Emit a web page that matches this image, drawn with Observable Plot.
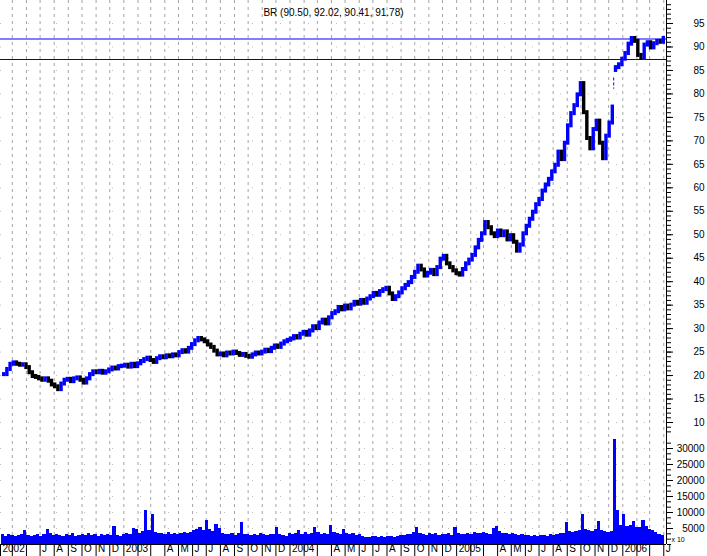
<!DOCTYPE html>
<html><head><meta charset="utf-8">
<script src="https://cdn.jsdelivr.net/npm/d3@7"></script>
<script src="https://cdn.jsdelivr.net/npm/@observablehq/plot@0.6"></script>
<style>
html,body{margin:0;padding:0;background:#fff;}
#chart{position:relative;width:707px;height:556px;overflow:hidden;background:#fff;}
#chart svg{position:absolute;left:0;top:0;}
</style></head><body><div id="chart"></div>
<script>
const title = "BR (90.50, 92.02, 90.41, 91.78)";
const firstWeek = "2002-04-12";
const lastWeek = "2006-03-31";
const xStart = "2002-04-05";
const xEnd = "2006-04-07";

// weekly closes (Fridays)
const closes = [
  20.2, 21.3, 22.4, 22.7, 22.4, 22.2, 22.3, 21.7, 20.6, 19.8,
  19.6, 19.3, 19.0, 19.3, 18.8, 18.0, 17.6, 17.0, 18.2, 19.0,
  19.2, 18.7, 19.3, 19.5, 19.0, 18.4, 19.3, 20.2, 20.8, 20.6,
  20.9, 20.5, 20.8, 21.2, 21.6, 21.4, 21.9, 22.0, 22.2, 21.8,
  22.4, 21.9, 22.5, 23.0, 23.4, 23.7, 23.2, 22.8, 23.6, 24.0,
  23.8, 24.2, 24.0, 24.4, 24.2, 24.9, 25.3, 25.0, 25.8, 26.6,
  27.4, 27.9, 27.6, 27.2, 26.5, 26.0, 25.2, 24.4, 24.6, 24.2,
  24.8, 24.6, 25.0, 24.7, 24.3, 24.5, 24.1, 23.9, 24.4, 24.8,
  24.6, 25.0, 25.4, 25.1, 25.8, 26.3, 26.0, 26.7, 27.2, 27.5,
  27.8, 28.3, 28.0, 28.8, 29.2, 28.6, 29.5, 30.4, 30.0, 31.2,
  31.8, 31.0, 32.3, 33.2, 33.6, 34.5, 34.0, 34.8, 34.2, 35.0,
  35.6, 35.2, 36.0, 35.4, 36.3, 36.8, 37.5, 37.1, 37.9, 38.3,
  38.6, 37.4, 36.2, 36.8, 37.6, 38.5, 39.2, 39.8, 40.9, 42.0,
  43.3, 42.5, 41.2, 41.8, 42.4, 41.5, 43.0, 44.8, 45.4, 43.8,
  43.0, 42.3, 41.7, 41.4, 42.6, 43.8, 44.6, 45.6, 47.2, 48.8,
  50.2, 52.6, 51.5, 50.2, 49.6, 50.8, 49.8, 50.6, 48.9, 49.8,
  48.4, 46.5, 47.8, 50.2, 51.8, 53.3, 54.8, 56.4, 57.5, 59.3,
  60.6, 61.8, 63.4, 64.8, 67.6, 66.0, 69.5, 73.2, 75.8, 77.5,
  79.8, 82.2, 76.0, 70.5, 68.3, 72.4, 74.2, 69.5, 66.2, 71.0,
  73.8, 77.2, 85.6, 86.2, 87.4, 88.6, 90.6, 91.8, 91.2, 88.2,
  87.6, 90.4, 90.9, 89.8, 90.7, 91.2, 91.0, 91.8
];

// weekly volume (axis units, x 10)
const volumes = [
  3000, 2600, 3200, 2800, 2500, 2900, 3100, 4400, 2700, 2400,
  2900, 3200, 2600, 3000, 4700, 3300, 2800, 3100, 2700, 2500,
  3200, 2900, 3400, 2600, 2800, 3000, 2700, 3300, 2900, 3100,
  2600, 3000, 2800, 3200, 2900, 5600, 2700, 2400, 3100, 3300,
  3000, 5000, 4600, 3500, 4200, 10600, 4400, 9400, 3800, 3500,
  3300, 3000, 3600, 3200, 3400, 3100, 3500, 3800, 3300, 3900,
  4300, 4800, 5200, 4500, 7500, 4600, 4200, 6200, 5000, 3400,
  3200, 3000, 3400, 2900, 3300, 6900, 3000, 3200, 2800, 3100,
  2900, 3300, 3000, 2800, 3200, 3100, 5300, 3000, 2700, 2400,
  3300, 3000, 3500, 4500, 3200, 3600, 3000, 3400, 5300, 3800,
  3200, 3500, 3100, 5900, 3600, 3300, 3000, 4700, 3400, 3100,
  3300, 2900, 3000, 2500, 2300, 2200, 2600, 2400, 2200, 2500,
  2300, 2600, 2400, 2200, 2500, 2700, 2800, 3000, 3200, 3600,
  5300, 3400, 3100, 2900, 3300, 3000, 3500, 2800, 3200, 3000,
  3400, 2900, 5300, 3500, 3200, 3000, 3400, 3100, 3600, 3300,
  3500, 3800, 3400, 3200, 5000, 5600, 4200, 3500, 3300, 3100,
  3400, 3000, 2800, 3000, 2700, 2900, 2600, 2800, 2500, 2700,
  2900, 2600, 3000, 2800, 3200, 3500, 3300, 6900, 4000, 3800,
  4200, 4500, 9400, 4800, 4400, 4100, 4600, 7200, 4300, 4000,
  3800, 4200, 32800, 10600, 5800, 9400, 5600, 6000, 7200, 5400,
  5200, 7500, 5600, 4800, 4300, 3600, 3200, 2800
];

// week whose bar opens after a gap
const gapOpens = [{week: "2005-12-16", open: 85.0}];
// isolated day range in the gap
const gapDay = [{date: "2005-12-12", low: 81.0, high: 83.4}];

// horizontal level lines
const levels = [91.7, 87.33];
const levelColors = ["#0000ff", "#0000c0"];

// axis ticks
const priceTicks = [10, 15, 20, 25, 30, 35, 40, 45, 50, 55, 60, 65, 70, 75, 80, 85, 90, 95];
const volumeTicks = [5000, 10000, 15000, 20000, 25000, 30000];
const axisLabelDates = [
  "2002-04-05","2002-07-01","2002-08-01","2002-09-01","2002-10-01","2002-11-01","2002-12-01",
  "2003-01-01","2003-04-01","2003-05-01","2003-06-01","2003-07-01","2003-08-01","2003-09-01","2003-10-01","2003-11-01","2003-12-01",
  "2004-01-01","2004-04-01","2004-05-01","2004-06-01","2004-07-01","2004-08-01","2004-09-01","2004-10-01","2004-11-01","2004-12-01",
  "2005-01-01","2005-04-01","2005-05-01","2005-06-01","2005-07-01","2005-08-01","2005-09-01","2005-10-01","2005-11-01","2005-12-01",
  "2006-01-01","2006-04-01"
];
const axisLabelTexts = [
  "2002","J","A","S","O","N","D",
  "2003","A","M","J","J","A","S","O","N","D",
  "2004","A","M","J","J","A","S","O","N","D",
  "2005","A","M","J","J","A","S","O","N","D",
  "2006","J"
];

// ---------- build tables ----------
const weeks = d3.utcFriday.range(new Date(firstWeek), d3.utcDay.offset(new Date(lastWeek), 1));
const gapMap = new Map(gapOpens.map(g => [+new Date(g.week), g.open]));
const bars = weeks.map((date, i) => {
  const close = closes[i];
  const prev = gapMap.has(+date) ? gapMap.get(+date) : (i > 0 ? closes[i - 1] : close);
  return {date, close, hi: Math.max(prev, close), lo: Math.min(prev, close), up: close >= prev};
});
const vols = weeks.map((date, i) => ({date, vol: volumes[i]}));
const gapRows = gapDay.map(d => ({date: new Date(d.date), low: d.low, high: d.high}));
const levelRows = levels.map((v, i) => ({v, c: levelColors[i]}));
const x0 = new Date(xStart), x1 = new Date(xEnd);
const monthStarts = d3.utcMonth.range(new Date("2002-05-01"), new Date("2006-04-02"));
const bandTicks = [x0, ...monthStarts];
const axisLabels = axisLabelDates.map((d, i) => ({date: new Date(d), text: axisLabelTexts[i]}));
const minorPrice = d3.range(8, 100, 1);
const minorVol = d3.range(0, 32000, 5000 / 3);

const common = {
  width: 707, height: 556,
  marginLeft: 0, marginRight: 41, marginTop: 0, marginBottom: 12,
  style: {background: "transparent", fontFamily: "'Liberation Sans', Arial, sans-serif", fontSize: "10px", overflow: "visible"}
};
const xScale = {type: "utc", domain: [x0, x1], axis: null};
const BLUE = "#0000ff";

const pricePlot = Plot.plot({
  ...common,
  x: xScale,
  y: {domain: [10, 95], range: [422, 23], axis: null},
  marks: [
    Plot.ruleX(monthStarts, {stroke: "#a4a4a4", strokeDasharray: "3,4", strokeWidth: 1}),
    Plot.ruleY(priceTicks, {stroke: "#c0c0c0", strokeDasharray: "1,27", strokeWidth: 1}),
    Plot.ruleY(levelRows, {y: "v", stroke: d => d.c, strokeWidth: 1.2}),
    Plot.ruleX(bars.filter(d => !d.up), {x: "date", y1: "hi", y2: "lo", stroke: "#000", strokeWidth: 3.4, insetTop: -2, insetBottom: -2}),
    Plot.ruleX(bars.filter(d => d.up), {x: "date", y1: "hi", y2: "lo", stroke: BLUE, strokeWidth: 3.4, insetTop: -2, insetBottom: -2}),
    Plot.ruleX(gapRows, {x: "date", y1: "high", y2: "low", stroke: BLUE, strokeWidth: 1, strokeDasharray: "3,2"}),
    Plot.ruleX([x1], {stroke: "#000", strokeWidth: 1}),
    Plot.axisY(minorPrice, {anchor: "right", tickSize: 4, tickFormat: () => "", label: null, stroke: "#000"}),
    Plot.axisY(priceTicks, {anchor: "right", tickSize: 6, tickFormat: () => "", label: null, stroke: "#000"}),
    Plot.text(priceTicks, {y: d => d, text: d => String(d), frameAnchor: "right", dx: 38, textAnchor: "end", fontSize: 10, fill: "#000"}),
    Plot.text([title], {text: d => d, frameAnchor: "top", dy: 8, fontSize: 10, fill: "#000"})
  ]
});

const volPlot = Plot.plot({
  ...common,
  x: xScale,
  y: {domain: [0, 30000], range: [544, 448], axis: null},
  marks: [
    Plot.ruleY(volumeTicks, {stroke: "#c0c0c0", strokeDasharray: "1,27", strokeWidth: 1}),
    Plot.rectY(vols, {x1: d => d3.utcDay.offset(d.date, -5), x2: d => d3.utcDay.offset(d.date, 2), y: "vol", fill: BLUE, shapeRendering: "crispEdges"}),
    Plot.ruleY([0], {stroke: "#000", strokeWidth: 1}),
    Plot.axisX(bandTicks, {anchor: "bottom", tickSize: 12, tickFormat: () => "", label: null, stroke: "#000"}),
    Plot.text(axisLabels, {x: "date", text: "text", frameAnchor: "bottom", dy: 7, dx: 2, textAnchor: "start", fontSize: 10, fill: "#000"}),
    Plot.axisY(minorVol, {anchor: "right", tickSize: 4, tickFormat: () => "", label: null, stroke: "#000"}),
    Plot.axisY(volumeTicks, {anchor: "right", tickSize: 6, tickFormat: () => "", label: null, stroke: "#000"}),
    Plot.text(volumeTicks, {y: d => d, text: d => String(d), frameAnchor: "right", dx: 38, textAnchor: "end", fontSize: 10, fill: "#000"}),
    Plot.text(["x 10"], {text: d => d, frameAnchor: "bottom-right", dx: 5, dy: -3, textAnchor: "start", fontSize: 7, fill: "#000", className: "mult"})
  ]
});

const chart = document.getElementById("chart");
chart.appendChild(pricePlot);
chart.appendChild(volPlot);

// box around the multiplier note
const t = volPlot.querySelector(".mult text");
if (t) {
  const b = t.getBBox();
  d3.select(t.parentNode).insert("rect", "text")
    .attr("x", b.x - 2).attr("y", b.y).attr("width", b.width + 4).attr("height", b.height)
    .attr("fill", "#fff").attr("stroke", "#000").attr("stroke-width", 1);
}
</script></body></html>
